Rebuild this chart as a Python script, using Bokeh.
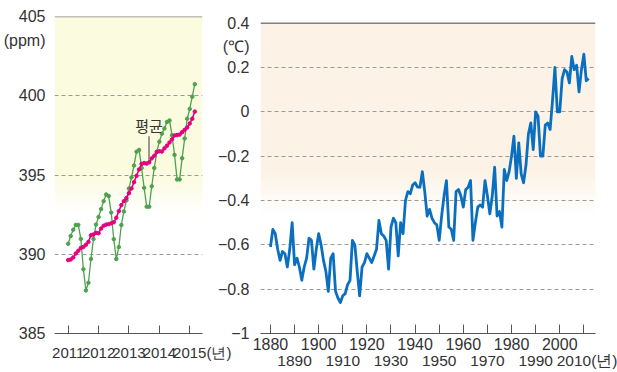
from bokeh.plotting import figure
from bokeh.models import FixedTicker, Span, Label, BoxAnnotation, LinearAxis, Range1d
from bokeh.layouts import row
from bokeh.embed import file_html
from bokeh.resources import INLINE

# ---------------- data ----------------
co2_month_index = list(range(51))  # months since Jan 2011
co2_monthly = [390.66, 391.15, 391.55, 391.85, 391.85, 390.97, 389.05, 387.72, 388.20, 389.70,
               390.97, 391.87, 392.35, 392.85, 393.35, 393.77, 393.67, 392.63, 390.95, 389.70,
               390.45, 391.85, 392.70, 393.40, 394.15, 394.85, 395.60, 396.47, 396.58, 395.44,
               394.19, 393.00, 393.00, 394.29, 395.44, 396.47, 397.10, 397.61, 397.93, 398.34,
               398.44, 397.51, 396.27, 394.72, 394.72, 396.06, 397.30, 398.55, 399.17, 399.94,
               400.73]
co2_mean = [389.63, 389.67, 389.80, 390.05, 390.22, 390.40, 390.46, 390.60, 390.78, 391.20,
            391.25, 391.35, 391.33, 391.62, 391.80, 391.87, 391.90, 391.95, 392.02, 392.30,
            392.72, 393.10, 393.35, 393.55, 393.85, 394.15, 394.55, 394.95, 395.35, 395.70,
            395.75, 395.72, 395.80, 396.05, 396.22, 396.45, 396.50, 396.48, 396.68, 396.85,
            397.05, 397.25, 397.50, 397.52, 397.55, 397.70, 397.85, 398.00, 398.25, 398.55,
            399.00]
co2_start_year = 2011
co2_year_ticks = [2011, 2012, 2013, 2014, 2015]
co2_y_ticks = [385, 390, 395, 400, 405]
co2_grid = [390, 395, 400]
co2_unit = "(ppm)"

temp_years = list(range(1880, 2013))
temp_anom = [
    -0.61, -0.53, -0.55, -0.62, -0.67, -0.63, -0.64, -0.70, -0.62, -0.50,   # 1880s
    -0.69, -0.66, -0.70, -0.76, -0.70, -0.66, -0.57, -0.58, -0.71, -0.62,   # 1890s
    -0.55, -0.60, -0.67, -0.72, -0.81, -0.66, -0.64, -0.81, -0.84, -0.86,   # 1900s
    -0.83, -0.82, -0.78, -0.76, -0.58, -0.60, -0.72, -0.83, -0.70, -0.68,   # 1910s
    -0.64, -0.66, -0.68, -0.65, -0.62, -0.49, -0.55, -0.56, -0.58, -0.71,   # 1920s
    -0.52, -0.48, -0.50, -0.65, -0.50, -0.55, -0.40, -0.36, -0.37, -0.33,   # 1930s
    -0.32, -0.34, -0.34, -0.27, -0.36, -0.47, -0.44, -0.48, -0.50, -0.51,   # 1940s
    -0.58, -0.47, -0.38, -0.31, -0.52, -0.53, -0.58, -0.36, -0.35, -0.38,   # 1950s
    -0.43, -0.35, -0.34, -0.31, -0.58, -0.50, -0.43, -0.42, -0.43, -0.31,   # 1960s
    -0.38, -0.46, -0.38, -0.25, -0.47, -0.45, -0.52, -0.26, -0.31, -0.27,   # 1970s
    -0.20, -0.11, -0.30, -0.14, -0.28, -0.32, -0.24, -0.10, -0.05, -0.17,   # 1980s
    0.00, -0.02, -0.20, -0.20, -0.06, -0.05, -0.08, 0.05, 0.20, 0.00,       # 1990s
    0.00, 0.15, 0.19, 0.18, 0.13, 0.25, 0.19, 0.21, 0.09, 0.19,             # 2000s
    0.26, 0.14, 0.15,                                                       # 2010s
]
temp_x_ticks = [1880, 1890, 1900, 1910, 1920, 1930, 1940, 1950, 1960, 1970, 1980, 1990, 2000, 2010]
temp_y_ticks = [-1.0, -0.8, -0.6, -0.4, -0.2, 0.0, 0.2, 0.4]
temp_grid = [-0.8, -0.6, -0.4, -0.2, 0.0, 0.2]
temp_unit = "(℃)"
year_unit = "(년)"

# ---------------- style ----------------
YFONT = "'Liberation Sans', Arial, sans-serif"
XFONT = "'Liberation Sans Narrow', 'Liberation Sans', sans-serif"
KFONT = "'Noto Sans CJK KR', sans-serif"
TXT = "#333333"
GRID = "#9a9a9a"
GREEN = "#4ea24e"
MAGENTA = "#e5007e"
BLUE = "#0b6fc0"
FS = "\u2007"  # figure space, shifts the year digits relative to the unit suffix

# both figures share the same top/bottom borders (a row aligns plot frames)
TOP_B, BOT_B, FIG_H = 16, 39, 372

co2_x = [co2_start_year + m / 12.0 for m in co2_month_index]

# ---------------- left chart ----------------
p1 = figure(width=232, height=FIG_H, x_range=Range1d(2010.55, 2015.42), y_range=Range1d(385, 405),
            output_backend="svg", toolbar_location=None,
            min_border_left=47, min_border_right=30, min_border_top=TOP_B, min_border_bottom=BOT_B)
p1.outline_line_color = None
p1.background_fill_color = "white"
p1.border_fill_alpha = 0

YEL = "#fbfbe0"
p1.add_layout(BoxAnnotation(bottom=394.8, top=405, fill_color=YEL, fill_alpha=1, line_alpha=0, level="image"))
n = 10
for k in range(n):
    top = 394.8 - k * 0.22
    p1.add_layout(BoxAnnotation(bottom=top - 0.22, top=top, fill_color=YEL,
                                fill_alpha=1 - (k + 0.5) / n, line_alpha=0, level="image"))

p1.xgrid.visible = False
p1.ygrid.ticker = FixedTicker(ticks=co2_grid)
p1.ygrid.grid_line_color = GRID
p1.ygrid.grid_line_dash = "4 3"
p1.ygrid.grid_line_width = 1
p1.add_layout(Span(location=co2_y_ticks[-1], dimension="width", line_color="#808080", line_width=1.5))

unit_pos_co2 = 403.5
p1.yaxis.ticker = FixedTicker(ticks=co2_y_ticks + [unit_pos_co2])
p1.yaxis.major_label_overrides = {unit_pos_co2: co2_unit}
p1.yaxis.axis_line_color = None
p1.yaxis.major_tick_line_color = None
p1.yaxis.minor_tick_line_color = None
p1.yaxis.major_label_standoff = 3
p1.yaxis.major_label_text_font = YFONT
p1.yaxis.major_label_text_font_size = "16px"
p1.yaxis.major_label_text_color = TXT

xl = {t: str(t) for t in co2_year_ticks}
xl[co2_year_ticks[-1]] = FS * 3 + str(co2_year_ticks[-1]) + year_unit
p1.xaxis.ticker = FixedTicker(ticks=co2_year_ticks)
p1.xaxis.major_label_overrides = xl
p1.xaxis.axis_line_color = "#555555"
p1.xaxis.axis_line_width = 1.2
p1.xaxis.major_tick_in = 8
p1.xaxis.major_tick_out = 0
p1.xaxis.major_tick_line_color = "#555555"
p1.xaxis.minor_tick_line_color = None
p1.xaxis.major_label_standoff = 10
p1.xaxis.major_label_text_font = XFONT
p1.xaxis.major_label_text_font_size = "15px"
p1.xaxis.major_label_text_color = TXT

p1.line(co2_x, co2_monthly, line_color=GREEN, line_width=1.3)
p1.scatter(co2_x, co2_monthly, size=3.5, fill_color=GREEN, line_color=GREEN)
p1.line(co2_x, co2_mean, line_color=MAGENTA, line_width=1.6)
p1.scatter(co2_x, co2_mean, size=3.5, fill_color=MAGENTA, line_color=MAGENTA)

p1.add_layout(Label(x=2013.66, y=398.1, text="평균", text_font=KFONT, text_font_size="15px",
                    text_color=TXT, text_align="center", text_baseline="middle"))
p1.segment(x0=[2013.66], y0=[397.45], x1=[2013.66], y1=[395.9], line_color="#555555", line_width=1.2)

# ---------------- right chart ----------------
frame_top_extra = 0.030   # frame reaches slightly above the 0.4 line
p2 = figure(width=403, height=FIG_H, x_range=Range1d(1875.87, 2014.83),
            y_range=Range1d(-1.0, 0.4 + frame_top_extra),
            output_backend="svg", toolbar_location=None,
            min_border_left=44, min_border_right=22, min_border_top=TOP_B, min_border_bottom=BOT_B,
            margin=(0, 0, 0, -18))
p2.outline_line_color = None
p2.background_fill_color = "white"
p2.border_fill_alpha = 0

PEACH = "#fcf3e6"
p2.add_layout(BoxAnnotation(bottom=-0.28, top=0.4, fill_color=PEACH, fill_alpha=1, line_alpha=0, level="image"))
for k in range(n):
    top = -0.28 - k * 0.018
    p2.add_layout(BoxAnnotation(bottom=top - 0.018, top=top, fill_color=PEACH,
                                fill_alpha=1 - (k + 0.5) / n, line_alpha=0, level="image"))

p2.xgrid.visible = False
p2.ygrid.ticker = FixedTicker(ticks=temp_grid)
p2.ygrid.grid_line_color = GRID
p2.ygrid.grid_line_dash = "4 3"
p2.ygrid.grid_line_width = 1
p2.add_layout(Span(location=temp_y_ticks[-1], dimension="width", line_color="#808080", line_width=1.5))

unit_pos_temp = 0.295
ylabels = {}
for t in temp_y_ticks:
    s = ("%.1f" % abs(t)).rstrip("0").rstrip(".") if t != 0 else "0"
    ylabels[t] = ("−" + s) if t < 0 else s
ylabels[unit_pos_temp] = temp_unit
p2.yaxis.ticker = FixedTicker(ticks=temp_y_ticks + [unit_pos_temp])
p2.yaxis.major_label_overrides = ylabels
p2.yaxis.axis_line_color = None
p2.yaxis.major_tick_line_color = None
p2.yaxis.minor_tick_line_color = None
p2.yaxis.major_label_standoff = 5
p2.yaxis.major_label_text_font = YFONT
p2.yaxis.major_label_text_font_size = "16px"
p2.yaxis.major_label_text_color = TXT

even = {t: ("" if (t // 10) % 2 == 1 else str(t)) for t in temp_x_ticks}
p2.xaxis.ticker = FixedTicker(ticks=temp_x_ticks)
p2.xaxis.major_label_overrides = even
p2.xaxis.axis_line_color = "#555555"
p2.xaxis.axis_line_width = 1.2
p2.xaxis.major_tick_in = 9
p2.xaxis.major_tick_out = 0
p2.xaxis.major_tick_line_color = "#555555"
p2.xaxis.minor_tick_line_color = None
p2.xaxis.major_label_standoff = 4
p2.xaxis.major_label_text_font = XFONT
p2.xaxis.major_label_text_font_size = "16px"
p2.xaxis.major_label_text_color = TXT

odd_ticks = [t for t in temp_x_ticks if (t // 10) % 2 == 1]
odd_labels = {t: str(t) for t in odd_ticks}
odd_labels[odd_ticks[-1]] = FS * 2 + str(odd_ticks[-1]) + year_unit
ax2 = LinearAxis(ticker=FixedTicker(ticks=odd_ticks), major_label_overrides=odd_labels)
ax2.axis_line_color = None
ax2.major_tick_in = 0
ax2.major_tick_out = 0
ax2.minor_tick_line_color = None
ax2.major_label_standoff = -1
ax2.major_label_text_font = XFONT
ax2.major_label_text_font_size = "15.5px"
ax2.major_label_text_color = TXT
p2.add_layout(ax2, "below")

p2.line(temp_years, temp_anom, line_color=BLUE, line_width=2.8, line_join="round")

layout = row(p1, p2)
open("out.html", "w").write(file_html(layout, INLINE))
